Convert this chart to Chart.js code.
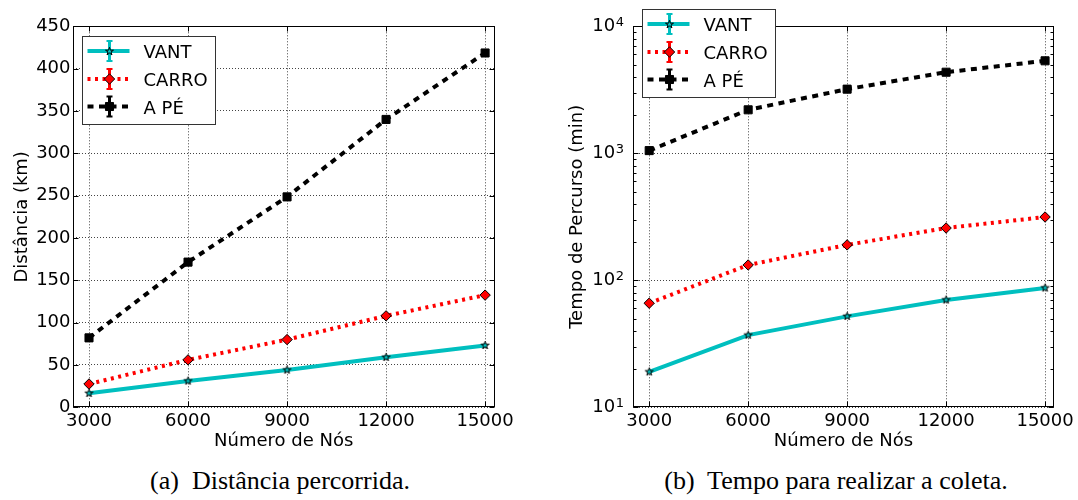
<!DOCTYPE html>
<html>
<head>
<meta charset="utf-8">
<script src="https://cdn.jsdelivr.net/npm/chart.js@4.4.1/dist/chart.umd.min.js"></script>
<style>
  html, body { margin: 0; padding: 0; background: #fff; }
  #page { position: relative; width: 1078px; height: 500px; overflow: hidden; background: #fff; }
  .panel { position: absolute; top: 0; }
  .caption { position: absolute; top: 466px; font-family: "Liberation Serif", "Times New Roman", serif;
             font-size: 26px; line-height: 30px; color: #000; white-space: nowrap; transform: translateX(-50%); }
</style>
</head>
<body>
<div id="page">
  <div class="panel" style="left:0;width:540px;height:455px"><canvas id="distChart" width="540" height="455"></canvas></div>
  <div class="panel" style="left:540px;width:538px;height:455px"><canvas id="timeChart" width="538" height="455"></canvas></div>
  <div class="caption" style="left:280px">(a)&nbsp; Distância percorrida.</div>
  <div class="caption" style="left:836px">(b)&nbsp; Tempo para realizar a coleta.</div>
</div>
<script>
// data
const nodes = [3000, 6000, 9000, 12000, 15000];
const seriesNames = ['VANT', 'CARRO', 'A PÉ'];

const distVant = [16.5, 31, 44, 59, 73];
const distCarro = [27.5, 56, 80, 108, 132.5];
const distApe = [82, 171.5, 248.5, 340, 418.5];

const timeVant = [19, 37, 52, 70, 87];
const timeCarro = [66, 132, 190, 258, 315];
const timeApe = [1050, 2200, 3200, 4350, 5350];

const distTicks = [0, 50, 100, 150, 200, 250, 300, 350, 400, 450];
const timeTicks = [10, 100, 1000, 10000];
const timeTickBase = '10';
const timeTickExp = ['1', '2', '3', '4'];

Chart.defaults.font.family = '"DejaVu Sans"';
Chart.defaults.font.size = 18;
Chart.defaults.color = '#000';

function starImage(fill, edge, R) {
    const c = document.createElement('canvas');
    const s = Math.ceil(2 * R + 4);
    c.width = s; c.height = s;
    const g = c.getContext('2d');
    g.translate(s / 2, s / 2);
    g.beginPath();
    for (let k = 0; k < 10; k++) {
        const r = k % 2 ? R * 0.381966 : R;
        const ang = -Math.PI / 2 + k * Math.PI / 5;
        g.lineTo(r * Math.cos(ang), r * Math.sin(ang));
    }
    g.closePath();
    g.fillStyle = fill;
    g.fill();
    g.lineWidth = 1;
    g.strokeStyle = edge;
    g.stroke();
    return c;
}
const star = starImage('#00bfbf', '#000', 4.2);

function makeDatasets(vant, carro, ape) {
    const pts = arr => arr.map((v, i) => ({ x: nodes[i], y: v }));
    return [{
        label: seriesNames[0], data: pts(vant),
        borderColor: '#00bfbf', borderWidth: 4,
        pointStyle: star, pointRadius: 5,
        pointBackgroundColor: '#00bfbf', pointBorderColor: '#000'
    }, {
        label: seriesNames[1], data: pts(carro),
        borderColor: '#ff0000', borderWidth: 4, borderDash: [3, 4.5],
        pointStyle: 'rectRot', pointRadius: 5.2, pointBorderWidth: 1,
        pointBackgroundColor: '#ff0000', pointBorderColor: '#000'
    }, {
        label: seriesNames[2], data: pts(ape),
        borderColor: '#000', borderWidth: 4, borderDash: [6, 5.5],
        pointStyle: 'rect', pointRadius: 5.7, pointBorderWidth: 1,
        pointBackgroundColor: '#000', pointBorderColor: '#000'
    }];
}

function drawMarker(ctx, ds, x, y) {
    const ps = ds.pointStyle;
    if (typeof ps !== 'string') {
        ctx.drawImage(ps, Math.round(x - ps.width / 2), Math.round(y - ps.height / 2));
        return;
    }
    const r = ds.pointRadius;
    ctx.beginPath();
    if (ps === 'rectRot') {
        ctx.moveTo(x - r, y); ctx.lineTo(x, y - r); ctx.lineTo(x + r, y); ctx.lineTo(x, y + r);
        ctx.closePath();
    } else {
        const h = r * Math.SQRT1_2;
        ctx.rect(x - h, y - h, 2 * h, 2 * h);
    }
    ctx.fillStyle = ds.pointBackgroundColor;
    ctx.fill();
    ctx.lineWidth = ds.pointBorderWidth;
    ctx.strokeStyle = ds.pointBorderColor;
    ctx.setLineDash([]);
    ctx.stroke();
}

// frame on all four sides with matplotlib-style inward ticks
function framePlugin(minorY) {
    return {
        id: 'frameTicks',
        afterDatasetsDraw(chart) {
            const { ctx, chartArea: a, scales } = chart;
            const L = Math.round(a.left) + 0.5, R = Math.round(a.right) - 0.5;
            const T = Math.round(a.top) + 0.5, B = Math.round(a.bottom) - 0.5;
            ctx.save();
            ctx.setLineDash([]);
            ctx.strokeStyle = '#000';
            ctx.lineWidth = 1;
            ctx.beginPath();
            scales.x.ticks.forEach(t => {
                const px = Math.round(scales.x.getPixelForValue(t.value)) + 0.5;
                ctx.moveTo(px, B); ctx.lineTo(px, B - 5);
                ctx.moveTo(px, T); ctx.lineTo(px, T + 5);
            });
            scales.y.ticks.forEach(t => {
                const py = Math.round(scales.y.getPixelForValue(t.value)) + 0.5;
                ctx.moveTo(L, py); ctx.lineTo(L + 5, py);
                ctx.moveTo(R, py); ctx.lineTo(R - 5, py);
            });
            (minorY || []).forEach(v => {
                const py = Math.round(scales.y.getPixelForValue(v)) + 0.5;
                ctx.moveTo(L, py); ctx.lineTo(L + 3, py);
                ctx.moveTo(R, py); ctx.lineTo(R - 3, py);
            });
            ctx.stroke();
            ctx.strokeRect(L, T, R - L, B - T);
            ctx.restore();
        }
    };
}

// exponents for the log axis labels ("10" comes from the scale itself)
const exponentPlugin = {
    id: 'exponents',
    afterDraw(chart) {
        const { ctx, scales: { y } } = chart;
        ctx.save();
        ctx.fillStyle = '#000';
        ctx.font = '13px "DejaVu Sans"';
        ctx.textAlign = 'left';
        ctx.textBaseline = 'alphabetic';
        y.ticks.forEach(t => {
            const i = timeTicks.indexOf(t.value);
            if (i < 0) return;
            ctx.fillText(timeTickExp[i], y.right - 17, y.getPixelForValue(t.value) - 0.5);
        });
        ctx.restore();
    }
};

// errorbar-style legend box
function legendPlugin(dx, dy) {
    return {
        id: 'boxLegend',
        afterDraw(chart) {
            const { ctx, chartArea: a } = chart;
            const bx = Math.round(a.left + dx) + 0.5, by = Math.round(a.top + dy) + 0.5;
            ctx.save();
            ctx.fillStyle = '#fff';
            ctx.fillRect(bx, by, 133, 88);
            ctx.strokeStyle = '#333';
            ctx.lineWidth = 1;
            ctx.setLineDash([]);
            ctx.strokeRect(bx, by, 133, 88);
            const rows = [14.5, 42.5, 70];
            chart.data.datasets.forEach((ds, i) => {
                const y = by + rows[i];
                const mx = bx + 27;
                ctx.strokeStyle = ds.borderColor;
                ctx.lineWidth = ds.borderWidth;
                ctx.setLineDash(ds.borderDash || []);
                ctx.beginPath();
                ctx.moveTo(bx + 5, y); ctx.lineTo(bx + 47, y);
                ctx.stroke();
                ctx.setLineDash([]);
                ctx.lineWidth = 3;
                ctx.beginPath();
                ctx.moveTo(mx, y - 10); ctx.lineTo(mx, y + 10);
                ctx.stroke();
                ctx.lineWidth = 2;
                ctx.beginPath();
                ctx.moveTo(mx - 3, y - 10); ctx.lineTo(mx + 3, y - 10);
                ctx.moveTo(mx - 3, y + 10); ctx.lineTo(mx + 3, y + 10);
                ctx.stroke();
                drawMarker(ctx, ds, mx, y);
                ctx.fillStyle = '#000';
                ctx.font = '18px "DejaVu Sans"';
                ctx.textBaseline = 'alphabetic';
                ctx.fillText(ds.label, bx + 61, y + 7);
            });
            ctx.restore();
        }
    };
}

function xScale(max) {
    return {
        type: 'linear', min: 2500, max: max,
        afterBuildTicks: s => { s.ticks = nodes.map(v => ({ value: v })); },
        afterFit: s => { s.height = 47.7; },
        grid: { color: '#444', lineWidth: 1, drawTicks: false },
        border: { display: false, dash: [1, 2] },
        ticks: { padding: 3, maxRotation: 0, autoSkip: false, callback: v => String(v) },
        title: { display: true, text: 'Número de Nós', padding: { top: 0, bottom: 3.2 } }
    };
}

// fixed y-axis width; no label overflow padding so the plot area stays put
const fitY = w => s => { s.width = w; s.paddingTop = 0; s.paddingBottom = 0; };

const minorLog = [];
[10, 100, 1000].forEach(d => { for (let k = 2; k <= 9; k++) minorLog.push(k * d); });

new Chart(document.getElementById('distChart'), {
    type: 'line',
    data: { datasets: makeDatasets(distVant, distCarro, distApe) },
    options: {
        responsive: false, animation: false, events: [],
        layout: { padding: { left: 0, top: 26.3, right: 45, bottom: 0 } },
        plugins: { legend: { display: false }, tooltip: { enabled: false } },
        scales: {
            x: xScale(15300),
            y: {
                type: 'linear', min: 0, max: 450,
                afterBuildTicks: s => { s.ticks = distTicks.map(v => ({ value: v })); },
                afterFit: fitY(72.5),
                grid: { color: '#444', lineWidth: 1, drawTicks: false },
                border: { display: false, dash: [1, 2] },
                ticks: { padding: 2, autoSkip: false },
                title: { display: true, text: 'Distância (km)', padding: { top: 11.2, bottom: 0 } }
            }
        }
    },
    plugins: [framePlugin(), legendPlugin(9.3, 10)]
});

new Chart(document.getElementById('timeChart'), {
    type: 'line',
    data: { datasets: makeDatasets(timeVant, timeCarro, timeApe) },
    options: {
        responsive: false, animation: false, events: [],
        layout: { padding: { left: 0, top: 26.3, right: 23.7, bottom: 0 } },
        plugins: { legend: { display: false }, tooltip: { enabled: false } },
        scales: {
            x: xScale(15280),
            y: {
                type: 'logarithmic', min: 10, max: 10000,
                afterBuildTicks: s => { s.ticks = timeTicks.map(v => ({ value: v, major: true })); },
                afterFit: fitY(92.7),
                grid: { color: '#444', lineWidth: 1, drawTicks: false },
                border: { display: false, dash: [1, 2] },
                ticks: { padding: 17.5, autoSkip: false, callback: () => timeTickBase },
                title: { display: true, text: 'Tempo de Percurso (min)', padding: { top: 26.2, bottom: 0 } }
            }
        }
    },
    plugins: [framePlugin(minorLog), exponentPlugin, legendPlugin(9.3, -17)]
});
</script>
</body>
</html>
